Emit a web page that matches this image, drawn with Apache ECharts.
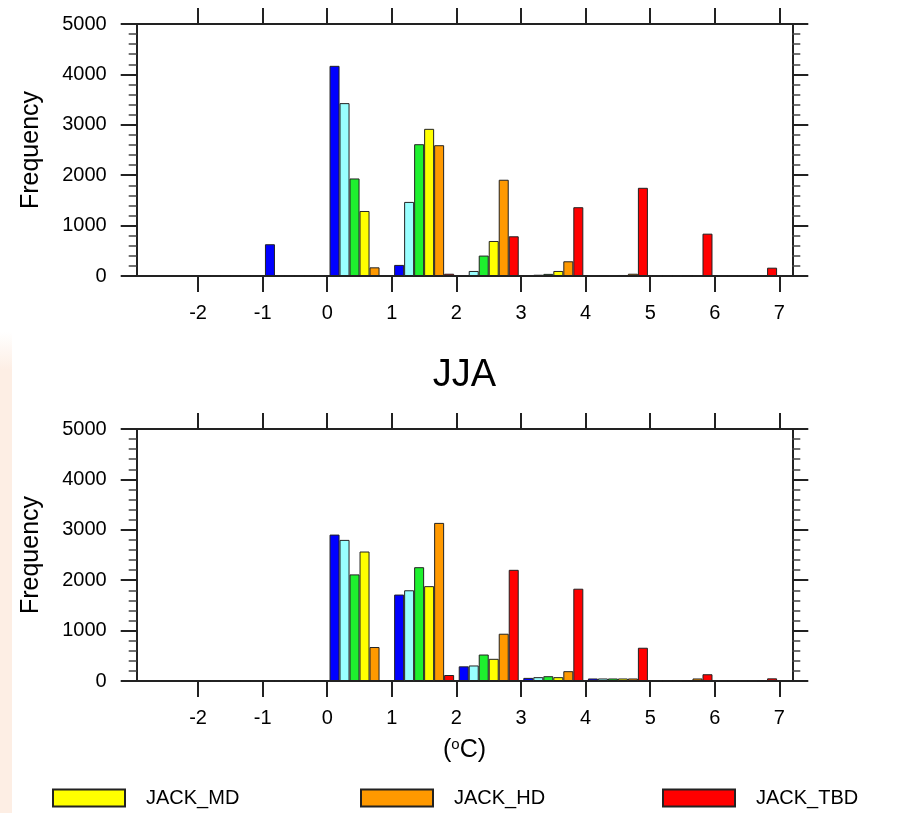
<!DOCTYPE html>
<html>
<head>
<meta charset="utf-8">
<script src="https://cdn.jsdelivr.net/npm/echarts@6/dist/echarts.min.js"></script>
<style>
html,body{margin:0;padding:0;background:#fff;}
#chart{width:904px;height:813px;}
</style>
</head>
<body>
<div id="chart"></div>
<script>
// ---- data ----
const binCenters = [-1.5, -0.5, 0.5, 1.5, 2.5, 3.5, 4.5, 5.5, 6.5];
const xTickValues = [-2, -1, 0, 1, 2, 3, 4, 5, 6, 7];
const seriesNames = ['Series 1', 'Series 2', 'Series 3', 'JACK_MD', 'JACK_HD', 'JACK_TBD'];
const seriesColors = ['#0000ff', '#99ffff', '#1ef02e', '#ffff00', '#ff9900', '#ff0000'];
const panelTitles = ['', 'JJA'];

// top panel
const topBlue   = [0, 630, 4170, 220, 15, 0, 0, 0, 0];
const topCyan   = [0, 0, 3430, 1470, 100, 25, 5, 0, 0];
const topGreen  = [0, 0, 1935, 2615, 405, 42, 10, 0, 0];
const topYellow = [0, 0, 1290, 2920, 695, 100, 20, 5, 0];
const topOrange = [0, 0, 172, 2595, 1910, 292, 45, 10, 0];
const topRed    = [0, 0, 0, 45, 788, 1365, 1750, 840, 165];

// bottom panel (JJA)
const botBlue   = [0, 0, 2905, 1715, 291, 62, 50, 0, 0];
const botCyan   = [0, 0, 2800, 1800, 308, 76, 50, 0, 0];
const botGreen  = [0, 0, 2115, 2258, 525, 95, 50, 10, 0];
const botYellow = [0, 0, 2569, 1882, 440, 76, 50, 15, 0];
const botOrange = [0, 0, 674, 3137, 938, 195, 50, 50, 5];
const botRed    = [0, 0, 0, 119, 2206, 1831, 660, 134, 53];

const panels = [
  [topBlue, topCyan, topGreen, topYellow, topOrange, topRed],
  [botBlue, botCyan, botGreen, botYellow, botOrange, botRed]
];

// ---- layout ----
const FONT = 'Liberation Sans, Arial, Helvetica, sans-serif';
const gridLeft = 136.7, gridWidth = 655.6, gridHeight = 252;
const gridTops = [24, 429];
const AX = '#222';

const grids = [], xAxes = [], yAxes = [], series = [];
gridTops.forEach((t, gi) => {
  grids.push({left: gridLeft, top: t, width: gridWidth, height: gridHeight, containLabel: false});
  const xBase = {
    type: 'value', gridIndex: gi, min: -2.95, max: 7.2,
    splitLine: {show: false},
    axisLine: {show: true, onZero: false, lineStyle: {color: AX, width: 2}},
    axisTick: {show: true, inside: false, length: 16, customValues: xTickValues, lineStyle: {color: AX, width: 2}}
  };
  xAxes.push(Object.assign({}, xBase, {
    position: 'bottom',
    axisLabel: {show: true, customValues: xTickValues, margin: 27, fontSize: 20, color: '#000', fontFamily: FONT,
                formatter: v => String(v)},
    name: gi === 1 ? '({sup|o}C)' : '',
    nameLocation: 'middle', nameGap: 56,
    nameTextStyle: {fontSize: 25, color: '#000', fontFamily: FONT,
      rich: {sup: {fontSize: 15, verticalAlign: 'top', padding: [0, 0, 12, 0], color: '#000', fontFamily: FONT}}}
  }));
  xAxes.push(Object.assign({}, xBase, {position: 'top', axisLabel: {show: false}}));
  const yBase = {
    type: 'value', gridIndex: gi, min: 0, max: 5000, interval: 1000,
    splitLine: {show: false}, minorSplitLine: {show: false},
    axisLine: {show: true, onZero: false, lineStyle: {color: AX, width: 2}},
    axisTick: {show: true, inside: false, length: 16, lineStyle: {color: AX, width: 2}},
    minorTick: {show: true, splitNumber: 5, length: 8, lineStyle: {color: '#444', width: 1.5}}
  };
  yAxes.push(Object.assign({}, yBase, {
    position: 'left',
    axisLabel: {show: true, margin: 30, fontSize: 20, color: '#000', fontFamily: FONT,
                formatter: v => String(v)},
    name: 'Frequency', nameLocation: 'middle', nameGap: 93, nameRotate: 90,
    nameTextStyle: {fontSize: 25, color: '#000', fontFamily: FONT}
  }));
  yAxes.push(Object.assign({}, yBase, {position: 'right', axisLabel: {show: false}}));

  panels[gi].forEach((vals, si) => {
    series.push({
      type: 'bar', name: seriesNames[si],
      xAxisIndex: gi * 2, yAxisIndex: gi * 2,
      barWidth: 10, barGap: '0%',
      itemStyle: {color: seriesColors[si], borderColor: '#222', borderWidth: 1},
      emphasis: {disabled: true},
      data: binCenters.map((c, k) => [c, vals[k]])
    });
  });
});

const legendPos = [52, 360, 662];
const legends = [3, 4, 5].map((si, k) => ({
  data: [seriesNames[si]], left: legendPos[k], top: 788, padding: 0,
  itemWidth: 72, itemHeight: 17, icon: 'rect', selectedMode: false,
  textStyle: {fontSize: 20, color: '#000', fontFamily: FONT, padding: [0, 0, 0, 16], lineHeight: 17}
}));

const option = {
  animation: false,
  backgroundColor: '#fff',
  textStyle: {fontFamily: FONT},
  title: [{text: panelTitles[1], left: 464.5, textAlign: 'center', top: 357, padding: 0,
           textStyle: {fontSize: 38, fontWeight: 'normal', color: '#000', fontFamily: FONT}}],
  graphic: [{type: 'rect', left: 0, top: 332, z: -10, silent: true,
    shape: {width: 12, height: 481},
    style: {fill: new echarts.graphic.LinearGradient(0, 0, 0, 1, [
      {offset: 0, color: 'rgba(253,238,228,0)'}, {offset: 0.08, color: 'rgba(253,238,228,1)'}, {offset: 1, color: 'rgba(253,238,228,1)'}])}}],
  legend: legends,
  grid: grids, xAxis: xAxes, yAxis: yAxes, series: series
};

const chart = echarts.init(document.getElementById('chart'), null, {renderer: 'canvas'});
chart.setOption(option);
</script>
</body>
</html>
